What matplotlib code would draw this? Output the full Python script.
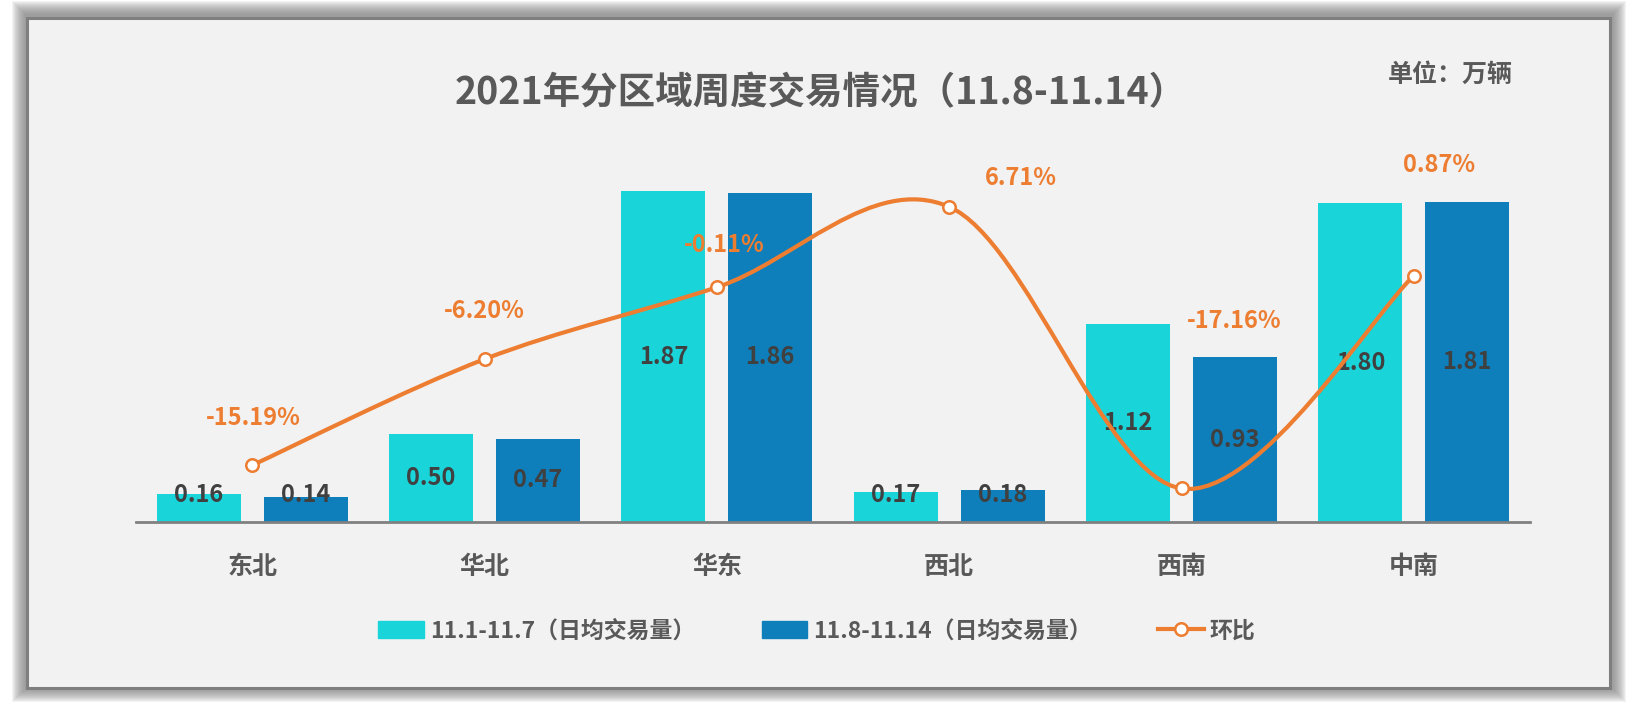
import matplotlib
matplotlib.use("Agg")
import numpy as np
from matplotlib import pyplot as plt
from matplotlib.patches import Rectangle, PathPatch
from matplotlib.path import Path
from matplotlib.lines import Line2D

plt.rcParams['font.family'] = ['Noto Sans CJK SC', 'DejaVu Sans']

# ---- data ----
regions = ['东北', '华北', '华东', '西北', '西南', '中南']
week1 = [0.16, 0.50, 1.87, 0.17, 1.12, 1.80]      # 11.1-11.7 日均交易量
week2 = [0.14, 0.47, 1.86, 0.18, 0.93, 1.81]      # 11.8-11.14 日均交易量
ratio = [-15.19, -6.20, -0.11, 6.71, -17.16, 0.87]  # 环比 %
ratio_labels = ['-15.19%', '-6.20%', '-0.11%', '6.71%', '-17.16%', '0.87%']
# where each 环比 label sits relative to its point (pixels)
ratio_offsets = [(1, 47), (0, 48), (7, 42), (72, 29), (53, 167), (25, 111)]

title = '2021年分区域周度交易情况（11.8-11.14）'
unit = '单位：万辆'
legend_labels = ['11.1-11.7（日均交易量）', '11.8-11.14（日均交易量）', '环比']

CYAN = '#19d4d9'
BLUE = '#0e7fba'
ORANGE = '#ed7d31'
BG = '#f2f2f2'
GRAY_TXT = '#595959'
DARK_TXT = '#404040'

W, H = 1637, 706
fig = plt.figure(figsize=(W / 100, H / 100), dpi=100, facecolor='white')


def fx(px):
    return px / W


def fy(py):
    return 1 - py / H


# frame with soft shadow
L, T, R, B = 25, 16, 1611, 689
for d in range(14, 0, -1):
    fig.patches.append(Rectangle((fx(L - d + 1), fy(B + d - 1)), fx(R - L + 2 * d),
                                 (B - T + 2 * d) / H, transform=fig.transFigure,
                                 facecolor='#808080', edgecolor='none',
                                 alpha=0.09, zorder=-20))
fig.patches.append(Rectangle((fx(L + 1.5), fy(B - 1.5)), fx(R - L - 3), (B - T - 3) / H,
                             transform=fig.transFigure, facecolor=BG,
                             edgecolor='#7f7f7f', linewidth=2.2, zorder=-10))

# ---- axes ----
ax = fig.add_axes([fx(136), fy(522), fx(1394), 354 / H])
ax.patch.set_visible(False)
x = np.arange(len(regions))
bw = 0.362
off = 0.23
ax.bar(x - off, week1, width=bw, color=CYAN, zorder=2)
ax.bar(x + off, week2, width=bw, color=BLUE, zorder=2)
ax.set_xlim(-0.5, len(regions) - 0.5)
ax.set_ylim(0, 2.0)
ax.set_yticks([])
for s in ['top', 'right', 'left']:
    ax.spines[s].set_visible(False)
ax.spines['bottom'].set_color('#808080')
ax.spines['bottom'].set_linewidth(2)
ax.set_xticks(x, regions)
ax.tick_params(axis='x', length=0, pad=24, labelsize=18, labelcolor=GRAY_TXT)
for t in ax.get_xticklabels():
    t.set_fontweight('bold')

for xs, vals in ((x - off, week1), (x + off, week2)):
    for xi, v in zip(xs, vals):
        ax.text(xi, max(v / 2, 0.155), f'{v:.2f}', ha='center', va='center',
                fontsize=17, fontweight='bold', color=DARK_TXT, zorder=5)

# ---- 环比 line (smoothed) ----
ax2 = ax.twinx()
ax2.set_ylim(-20, 10)
ax2.axis('off')

pts = list(zip(x.astype(float), ratio))
verts = [pts[0]]
codes = [Path.MOVETO]
n = len(pts)
for i in range(n - 1):
    p0 = pts[i - 1] if i > 0 else pts[i]
    p1 = pts[i]
    p2 = pts[i + 1]
    p3 = pts[i + 2] if i + 2 < n else pts[i + 1]
    c1 = (p1[0] + (p2[0] - p0[0]) / 6, p1[1] + (p2[1] - p0[1]) / 6)
    c2 = (p2[0] - (p3[0] - p1[0]) / 6, p2[1] - (p3[1] - p1[1]) / 6)
    verts += [c1, c2, p2]
    codes += [Path.CURVE4] * 3
ax2.add_patch(PathPatch(Path(verts, codes), fill=False, edgecolor=ORANGE,
                        linewidth=3, capstyle='round', zorder=6, clip_on=False))
ax2.plot(x, ratio, ls='none', marker='o', ms=9, mfc='white', mec=ORANGE,
         mew=1.8, zorder=7, clip_on=False)
for xi, v, lab, (dx, dy) in zip(x, ratio, ratio_labels, ratio_offsets):
    ax2.annotate(lab, (xi, v), xytext=(dx, dy), textcoords='offset pixels',
                 ha='center', va='center', fontsize=17, fontweight='bold',
                 color=ORANGE, zorder=8)

# ---- texts ----
fig.text(fx(821), fy(93), title, ha='center', va='center', fontsize=27,
         fontweight='bold', color=GRAY_TXT)
fig.text(fx(1388), fy(75), unit, ha='left', va='center', fontsize=18,
         fontweight='bold', color=GRAY_TXT)

handles = [Rectangle((0, 0), 1, 1, color=CYAN), Rectangle((0, 0), 1, 1, color=BLUE),
           Line2D([], [], color=ORANGE, lw=3, marker='o', ms=9, mfc='white',
                  mec=ORANGE, mew=1.8)]
leg = fig.legend(handles, legend_labels, loc='center', bbox_to_anchor=(fx(817), fy(631)),
                 ncol=3, frameon=False, prop={'size': 16.5, 'weight': 'bold'},
                 handlelength=2.0, handletextpad=0.25, columnspacing=2.9)
for t in leg.get_texts():
    t.set_color(GRAY_TXT)

fig.savefig('out.png', dpi=100, facecolor='white')
